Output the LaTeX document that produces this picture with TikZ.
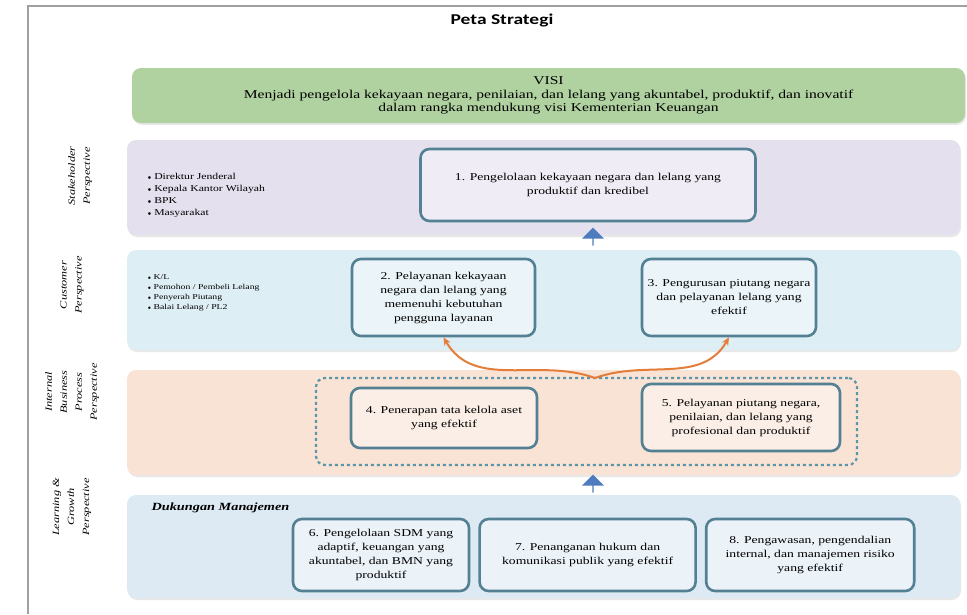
\documentclass[tikz,border=0pt]{standalone}
\usepackage{fontspec}
\setmainfont[FakeStretch=1.3]{Liberation Serif}
\newfontfamily\titlefont[FakeStretch=1.3]{Carlito}
\usetikzlibrary{positioning, arrows.meta, shapes.arrows, shadows}
\definecolor{visigreen}{RGB}{176,210,160}
\definecolor{stakefill}{RGB}{229,224,238}
\definecolor{custfill}{RGB}{222,238,245}
\definecolor{procfill}{RGB}{249,227,213}
\definecolor{learnfill}{RGB}{221,234,243}
\definecolor{goalline}{RGB}{84,128,148}
\definecolor{dashteal}{RGB}{92,150,170}
\definecolor{uparrowblue}{RGB}{78,122,190}
\definecolor{linkorange}{RGB}{228,124,58}
\definecolor{framegray}{RGB}{160,160,160}

\begin{document}
\begin{tikzpicture}[x=1pt, y=-1pt,
  band/.style={rounded corners=9pt, minimum width=833pt, inner sep=0pt,
               drop shadow={opacity=0.18, shadow xshift=1pt, shadow yshift=-2pt}},
  goal/.style={draw=goalline, line width=2.6pt, rounded corners=9pt, align=center,
               font=\fontsize{10.5}{14}\selectfont, inner sep=2pt},
  persp/.style={rotate=90, align=center, font=\fontsize{9.5}{15}\selectfont\itshape},
  who/.style={align=left, anchor=west, font=\fontsize{9}{12}\selectfont},
  uparr/.style={single arrow, shape border rotate=90, fill=uparrowblue, draw=none,
                minimum height=18pt, minimum width=22pt, single arrow head extend=3pt,
                inner sep=0pt},
  link/.style={-{Stealth[length=8pt, width=7pt]}, line width=2pt, color=linkorange}]

  \useasboundingbox (0,0) rectangle (967,614);
  \draw[framegray, line width=2.5pt] (28,614) -- (28,6) -- (967,6);

  \node[font=\titlefont\bfseries\fontsize{15}{17}\selectfont] (title) at (502,21) {Peta Strategi};

  %% VISI
  \node[band, fill=visigreen, minimum height=55pt, align=center,
        font=\fontsize{12}{13.5}\selectfont] (visi) at (548.5,95.5)
    {VISI\\Menjadi pengelola kekayaan negara, penilaian, dan lelang yang akuntabel, produktif, dan inovatif\\dalam rangka mendukung visi Kementerian Keuangan};

  %% perspective bands
  \node[band, fill=stakefill, minimum height=95pt] (stake) at (543.5,187.5) {};
  \node[band, fill=custfill,  minimum height=100pt] (cust)  at (543.5,300) {};
  \node[band, fill=procfill,  minimum height=105pt] (proc)  at (543.5,422.5) {};
  \node[band, fill=learnfill, minimum height=103pt] (learn) at (543.5,546.5) {};

  %% side labels
  \node[persp] (pstake) at (80,176) {Stakeholder\\Perspective};
  \node[persp] (pcust)  at (72,285) {Customer\\Perspective};
  \node[persp] (pproc)  at (72,392) {Internal\\Business\\Process\\Perspective};
  \node[persp] (plearn) at (72,507) {Learning \&\\Growth\\Perspective};

  %% who is served
  \node[who] (wstake) at (144,195) {$\scriptstyle\bullet$ Direktur Jenderal\\$\scriptstyle\bullet$ Kepala Kantor Wilayah\\$\scriptstyle\bullet$ BPK\\$\scriptstyle\bullet$ Masyarakat};
  \node[who, font=\fontsize{7.5}{10}\selectfont] (wcust) at (144,293) {$\scriptstyle\bullet$ K/L\\$\scriptstyle\bullet$ Pemohon / Pembeli Lelang\\$\scriptstyle\bullet$ Penyerah Piutang\\$\scriptstyle\bullet$ Balai Lelang / PL2};
  \node[anchor=west, font=\fontsize{11}{13}\selectfont\bfseries\itshape] (dukung) at (148,508) {Dukungan Manajemen};

  %% strategic goals
  \node[goal, fill=stakefill!60!white, minimum width=335pt, minimum height=72pt] (g1) at (588,185)
    {1. Pengelolaan kekayaan negara dan lelang yang\\produktif dan kredibel};
  \node[goal, fill=custfill!60!white, minimum width=183pt, minimum height=77pt] (g2) at (443.5,297.5)
    {2. Pelayanan kekayaan\\negara dan lelang yang\\memenuhi kebutuhan\\pengguna layanan};
  \node[goal, fill=custfill!60!white, minimum width=174pt, minimum height=77pt] (g3) at (729,297.5)
    {3. Pengurusan piutang negara\\dan pelayanan lelang yang\\efektif};

  \node[draw=dashteal, dashed, line width=2.2pt, rounded corners=9pt,
        minimum width=541pt, minimum height=87pt] (core) at (586.5,421.5) {};
  \node[goal, fill=procfill!60!white, minimum width=186pt, minimum height=60pt] (g4) at (444,418)
    {4. Penerapan tata kelola aset\\yang efektif};
  \node[goal, fill=procfill!60!white, minimum width=198pt, minimum height=67pt] (g5) at (741,417.5)
    {5. Pelayanan piutang negara,\\penilaian, dan lelang yang\\profesional dan produktif};

  \node[goal, fill=learnfill!60!white, minimum width=176pt, minimum height=72pt] (g6) at (381,555)
    {6. Pengelolaan SDM yang\\adaptif, keuangan yang\\akuntabel, dan BMN yang\\produktif};
  \node[goal, fill=learnfill!60!white, minimum width=216pt, minimum height=72pt, right=8pt of g6] (g7)
    {7. Penanganan hukum dan\\komunikasi publik yang efektif};
  \node[goal, fill=learnfill!60!white, minimum width=208pt, minimum height=72pt, right=8pt of g7] (g8)
    {8. Pengawasan, pengendalian\\internal, dan manajemen risiko\\yang efektif};

  %% arrows
  \node[uparr] (up1) at (593,237) {};
  \node[uparr] (up2) at (593,484) {};
  \coordinate (fork) at (595,378);
  \draw[link] (fork) to[out=160, in=-60] (g2.south);
  \draw[link] (fork) to[out=20, in=-120] (g3.south);
\end{tikzpicture}
\end{document}
